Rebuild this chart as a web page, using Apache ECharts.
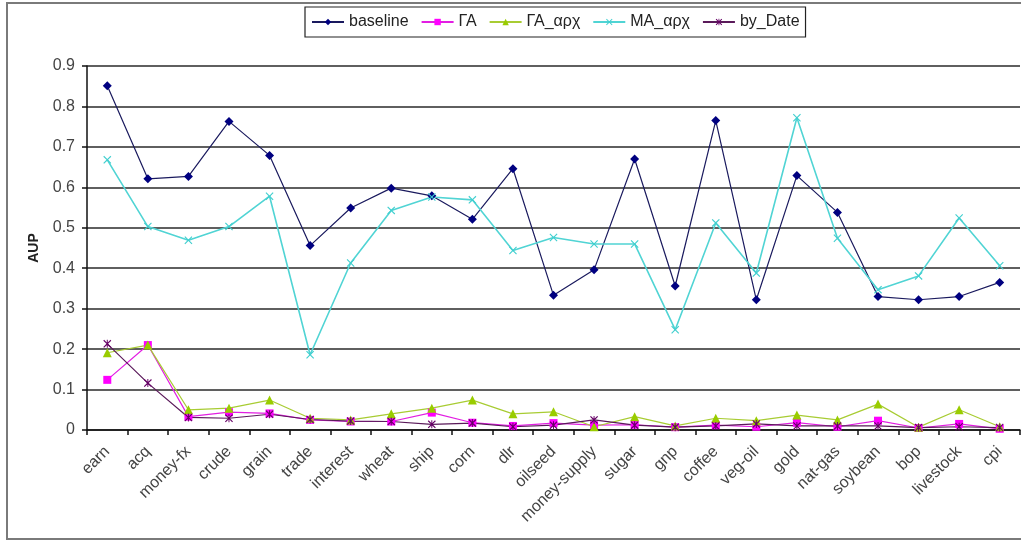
<!DOCTYPE html>
<html><head><meta charset="utf-8">
<script src="https://cdn.jsdelivr.net/npm/echarts@6/dist/echarts.min.js"></script>
<style>html,body{margin:0;padding:0;background:#fff}#c{width:1021px;height:545px}</style>
</head><body><div id="c"></div>
<script>
const categories = ['earn','acq','money-fx','crude','grain','trade','interest','wheat','ship','corn','dlr','oilseed','money-supply','sugar','gnp','coffee','veg-oil','gold','nat-gas','soybean','bop','livestock','cpi'];
const yTicks = [0,0.1,0.2,0.3,0.4,0.5,0.6,0.7,0.8,0.9];
const baseline = [0.851,0.621,0.627,0.763,0.679,0.456,0.549,0.598,0.579,0.521,0.646,0.333,0.396,0.670,0.356,0.765,0.322,0.629,0.538,0.330,0.322,0.330,0.365];
const GA = [0.124,0.210,0.033,0.044,0.041,0.025,0.021,0.021,0.043,0.018,0.010,0.017,0.012,0.013,0.007,0.012,0.008,0.018,0.008,0.023,0.005,0.015,0.003];
const GA_arx = [0.191,0.210,0.050,0.054,0.074,0.029,0.025,0.040,0.054,0.074,0.040,0.045,0.008,0.033,0.010,0.029,0.023,0.037,0.025,0.064,0.007,0.050,0.008];
const MA_arx = [0.668,0.503,0.469,0.503,0.578,0.186,0.413,0.543,0.576,0.569,0.444,0.476,0.460,0.460,0.248,0.512,0.388,0.772,0.474,0.347,0.381,0.524,0.406];
const byDate = [0.213,0.116,0.031,0.029,0.039,0.026,0.022,0.021,0.014,0.017,0.008,0.012,0.025,0.012,0.007,0.010,0.015,0.010,0.010,0.010,0.006,0.008,0.006];
const seriesNames = ['baseline','ΓΑ','ΓΑ_αρχ','MA_αρχ','by_Date'];

const X_SYM = 'path://M0,1L1,0L5,4L9,0L10,1L6,5L10,9L9,10L5,6L1,10L0,9L4,5Z';
const AST_SYM = 'path://M0,1L1,0L5,4L9,0L10,1L6,5L10,9L9,10L5,6L1,10L0,9L4,5Z M4.4,0L5.6,0L5.6,10L4.4,10Z';

const chart = echarts.init(document.getElementById('c'));
const FONT = 'Liberation Sans, Arial, sans-serif';
function mk(name, data, color, lineColor, symbol, size, lw) {
  return {
    name: name, type: 'line', data: data, symbol: symbol, symbolSize: size,
    showAllSymbol: true, animation: false,
    lineStyle: {color: lineColor, width: lw},
    itemStyle: {color: color},
    emphasis: {disabled: true}
  };
}
chart.setOption({
  animation: false,
  textStyle: {fontFamily: FONT},
  graphic: [{
    type: 'rect', shape: {x: 7, y: 3, width: 1030, height: 536},
    style: {fill: 'none', stroke: '#7a7a7a', lineWidth: 2}, z: -1
  }],
  legend: {
    left: 305, top: 7,
    itemWidth: 32, itemHeight: 8, itemGap: 12,
    padding: [7, 6],
    borderColor: '#222', borderWidth: 1.2,
    textStyle: {fontSize: 16, color: '#222', fontFamily: FONT},
    data: seriesNames
  },
  grid: {left: 87, right: 1, top: 66, bottom: 115},
  xAxis: {
    type: 'category', data: categories, boundaryGap: true,
    axisLine: {lineStyle: {color: '#111', width: 1.5}},
    axisTick: {show: true, length: 5, inside: false, lineStyle: {color: '#111', width: 1.5}},
    axisLabel: {rotate: 45, fontSize: 16, color: '#444', margin: 19, interval: 0, fontFamily: FONT},
    splitLine: {show: false}
  },
  yAxis: {
    type: 'value', min: 0, max: 0.9, interval: 0.1,
    name: 'AUP', nameLocation: 'middle', nameGap: 46, nameRotate: 90,
    nameTextStyle: {fontSize: 14, fontWeight: 'bold', color: '#222', fontFamily: FONT},
    axisLine: {show: true, lineStyle: {color: '#111', width: 1.5}},
    axisTick: {show: true, length: 5, lineStyle: {color: '#111', width: 1.5}},
    axisLabel: {fontSize: 16, color: '#444', margin: 12, fontFamily: FONT,
      formatter: function (v) { const t = yTicks.find(x => Math.abs(x - v) < 1e-9); return t === undefined ? '' : String(t); }},
    splitLine: {show: true, lineStyle: {color: '#2a2a2a', width: 1.5}}
  },
  series: [
    mk(seriesNames[0], baseline, '#000080', '#1a1a5e', 'diamond', 9, 1.2),
    mk(seriesNames[1], GA, '#ff00ff', '#e21ee2', 'rect', 8, 1.2),
    mk(seriesNames[2], GA_arx, '#99cc00', '#a8cc33', 'triangle', 9, 1.2),
    mk(seriesNames[3], MA_arx, '#40cfcf', '#50d4d4', X_SYM, 8, 1.6),
    mk(seriesNames[4], byDate, '#660066', '#5a1a5a', AST_SYM, 8, 1.2)
  ]
});
</script></body></html>
